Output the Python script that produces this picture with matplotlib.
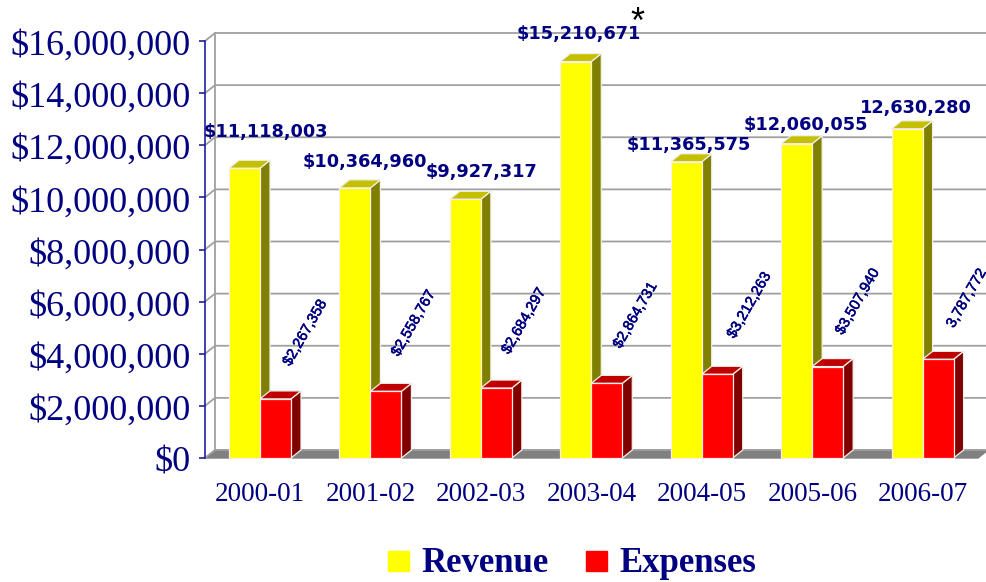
import matplotlib
matplotlib.use("Agg")
import matplotlib.pyplot as plt
import matplotlib.patheffects as pe
from matplotlib.patches import Rectangle
from matplotlib.transforms import ScaledTranslation

years = ["2000-01", "2001-02", "2002-03", "2003-04", "2004-05", "2005-06", "2006-07"]
revenue = [11118003, 10364960, 9927317, 15210671, 11365575, 12060055, 12630280]
expenses = [2267358, 2558767, 2684297, 2864731, 3212263, 3507940, 3787772]
revenue_labels = ["$11,118,003", "$10,364,960", "$9,927,317", "$15,210,671",
                  "$11,365,575", "$12,060,055", "12,630,280"]
expense_labels = ["$2,267,358", "$2,558,767", "$2,684,297", "$2,864,731",
                  "$3,212,263", "$3,507,940", "3,787,772"]
ticks = list(range(0, 16000001, 2000000))

NAVY = "#000080"
W, H = 987, 582
LEFT, RIGHT, TOP, BOTTOM = 205, 978, 41, 458

# label offsets from the top of each bar, in pixels
rev_off = [(21.5, 36), (9.5, 26), (16, 27), (3.5, 28), (3, 17), (9.5, 19), (8.5, 21)]
exp_off = [(29.5, 66), (27.5, 68), (27.5, 67), (28.5, 68), (32, 69), (30, 65), (28.5, 61)]

fig = plt.figure(figsize=(W / 100, H / 100), dpi=100)
ax = fig.add_axes([LEFT / W, 1 - BOTTOM / H, (RIGHT - LEFT) / W, (BOTTOM - TOP) / H])
ax.set_xlim(0, 7)
ax.set_ylim(0, 16000000)

# depth of the fake 3d in data units
px_x = 7 / (RIGHT - LEFT)
px_y = 16000000 / (BOTTOM - TOP)
dx = 10 * px_x
dy = 8 * px_y
bw = 31 * px_x
gap = 24 * px_x


def bar3d(x, val, front, top, side):
    ax.fill([x + bw, x + bw + dx, x + bw + dx, x + bw], [0, dy, val + dy, val],
            color=side, ec="#f0f0e8", lw=0.9, zorder=3, clip_on=False)
    ax.fill([x, x + dx, x + bw + dx, x + bw], [val, val + dy, val + dy, val],
            color=top, ec="#f0f0e8", lw=0.9, zorder=3, clip_on=False)
    ax.bar(x, val, bw, align="edge", color=front, ec="#ffecec", lw=0.9, zorder=3, clip_on=False)


# floor and back wall
ax.fill([0, dx, 7 + dx, 7], [0, dy, dy, 0], color="#808080", zorder=1, clip_on=False)
for t in ticks:
    ax.plot([0, dx, 7 + dx], [t, t + dy, t + dy], color="#a0a0a0", lw=1.3, zorder=1, clip_on=False)
ax.plot([dx, dx], [dy, 16000000 + dy], color="#a0a0a0", lw=1.3, zorder=1, clip_on=False)

for i in range(len(years)):
    x = i + gap
    bar3d(x, revenue[i], "#ffff00", "#c4c000", "#808000")
    bar3d(x + bw, expenses[i], "#ff0000", "#c00000", "#800000")
    ax.annotate(revenue_labels[i], (x + bw / 2, revenue[i]), xytext=(rev_off[i][0] * 0.72, rev_off[i][1] * 0.72),
                textcoords="offset points", ha="center", va="center", color=NAVY,
                fontsize=12.8, fontweight="bold", family="DejaVu Sans", zorder=5, annotation_clip=False)
    ax.annotate(expense_labels[i], (x + bw * 1.5, expenses[i]), xytext=(exp_off[i][0] * 0.72, exp_off[i][1] * 0.72),
                textcoords="offset points", ha="center", va="center", color=NAVY, rotation=60,
                rotation_mode="anchor", fontsize=10.6, family="Liberation Sans", zorder=5,
                annotation_clip=False, path_effects=[pe.withStroke(linewidth=0.4, foreground=NAVY)])

ax.spines[["top", "right", "bottom"]].set_visible(False)
ax.spines["left"].set_color("#2020a0")
ax.spines["left"].set_linewidth(1.2)
ax.set_yticks(ticks)
ax.set_yticklabels(["$" + format(t, ",") for t in ticks], family="Liberation Serif",
                   fontsize=26, color=NAVY)
ax.tick_params(axis="y", length=4, width=1.2, color="#2020a0", pad=6.5)
for lab in ax.get_yticklabels():
    lab.set_transform(lab.get_transform() + ScaledTranslation(0, -1 / 72, fig.dpi_scale_trans))
ax.set_xticks([i + 0.5 for i in range(len(years))])
ax.set_xticklabels(years, family="Liberation Serif", fontsize=19.5, color=NAVY)
ax.tick_params(axis="x", length=0, pad=17)

fig.text(637 / W, 1 - 23 / H, "*", fontsize=26, color="black", ha="center", va="center",
         family="Liberation Sans")

# legend
for px, col, name, tx in [(388, "#ffff00", "Revenue", 421), (586, "#ff0000", "Expenses", 619)]:
    fig.add_artist(Rectangle((px / W, 1 - 571 / H), 21 / W, 20 / H, color=col, transform=fig.transFigure))
    fig.text(tx / W, 1 - 572 / H, name, fontsize=25, fontweight="bold", color=NAVY,
             family="Liberation Serif", ha="left", va="baseline")

fig.savefig("out.png", dpi=100)
